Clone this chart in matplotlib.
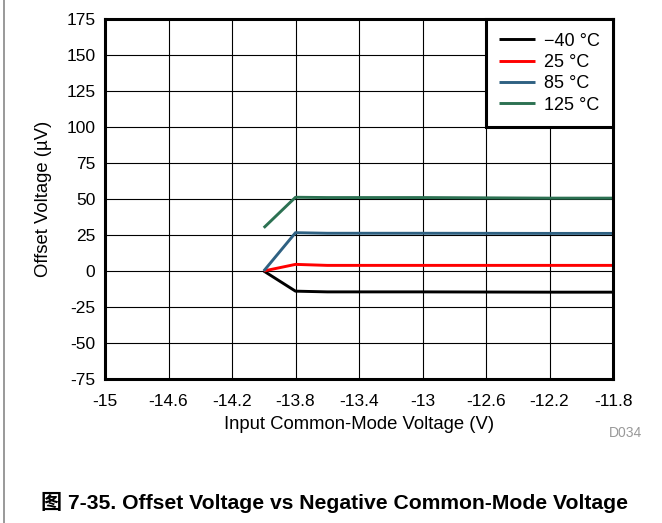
import matplotlib
matplotlib.use("Agg")
import matplotlib.pyplot as plt
from matplotlib.lines import Line2D

plt.rcParams['font.family'] = ['Liberation Sans', 'Noto Sans CJK SC', 'DejaVu Sans']

# Data
x_m40 = [-14.0, -13.8, -13.6, -13.0, -12.2, -11.8]
y_m40 = [0.0, -14.0, -14.5, -14.5, -14.7, -14.7]
x_25 = [-14.0, -13.8, -13.6, -13.0, -12.2, -11.8]
y_25 = [0.0, 4.6, 3.9, 3.9, 3.9, 3.9]
x_85 = [-14.0, -13.8, -13.6, -13.0, -12.2, -11.8]
y_85 = [0.0, 26.6, 26.2, 26.2, 26.1, 26.1]
x_125 = [-14.0, -13.8, -13.6, -13.0, -12.2, -11.8]
y_125 = [30.0, 51.2, 51.0, 51.0, 50.6, 50.6]

labels = ['\u221240 \u00b0C', '25 \u00b0C', '85 \u00b0C', '125 \u00b0C']
colors = ['#000000', '#ff0000', '#2f6182', '#2c7152']

xticks = [-15, -14.6, -14.2, -13.8, -13.4, -13, -12.6, -12.2, -11.8]
xticklabels = ['-15', '-14.6', '-14.2', '-13.8', '-13.4', '-13', '-12.6', '-12.2', '-11.8']
yticks = [-75, -50, -25, 0, 25, 50, 75, 100, 125, 150, 175]
yticklabels = ['-75', '-50', '-25', '0', '25', '50', '75', '100', '125', '150', '175']

fig = plt.figure(figsize=(6.62, 5.23), dpi=100)
ax = fig.add_axes([105/662, 1-379/523, (613-105)/662, (379-19)/523])

series = [(x_m40, y_m40), (x_25, y_25), (x_85, y_85), (x_125, y_125)]
for (xs, ys), c, lab in zip(series, colors, labels):
    ax.plot(xs, ys, color=c, lw=2.1, label=lab, zorder=3, solid_capstyle='butt')

ax.set_xlim(-15, -11.8)
ax.set_ylim(-75, 175)
ax.set_xticks(xticks)
ax.set_xticklabels(xticklabels)
ax.set_yticks(yticks)
ax.set_yticklabels(yticklabels)
ax.grid(True, color='black', lw=0.8)
ax.tick_params(length=0, labelsize=12.5, pad=7)
ax.tick_params(axis='x', pad=11)
for s in ax.spines.values():
    s.set_linewidth(2.2)
    s.set_zorder(5)

ax.set_xlabel('Input Common-Mode Voltage (V)', fontsize=13.3, labelpad=5)
ax.set_ylabel('Offset Voltage (\u00b5V)', fontsize=13.3, labelpad=10)

leg = ax.legend(loc='upper right', fontsize=13, frameon=True, fancybox=False,
                borderaxespad=0, handlelength=2.0, handletextpad=0.45,
                labelspacing=0.24, borderpad=0.75)
leg.get_frame().set_edgecolor('black')
leg.get_frame().set_linewidth(2.2)
leg.get_frame().set_alpha(1)
leg.set_zorder(6)

fig.text(626/662, 1-433/523, 'D034', color='#999999', fontsize=10, ha='center', va='center')
fig.text(335/662, 1-502/523, '\u56fe 7-35. Offset Voltage vs Negative Common-Mode Voltage',
         fontsize=15.2, fontweight='bold', ha='center', va='center')

fig.add_artist(Line2D([4/662, 4/662], [0, 1], color='#888888', lw=1.2))

fig.savefig('out.png', dpi=100)
